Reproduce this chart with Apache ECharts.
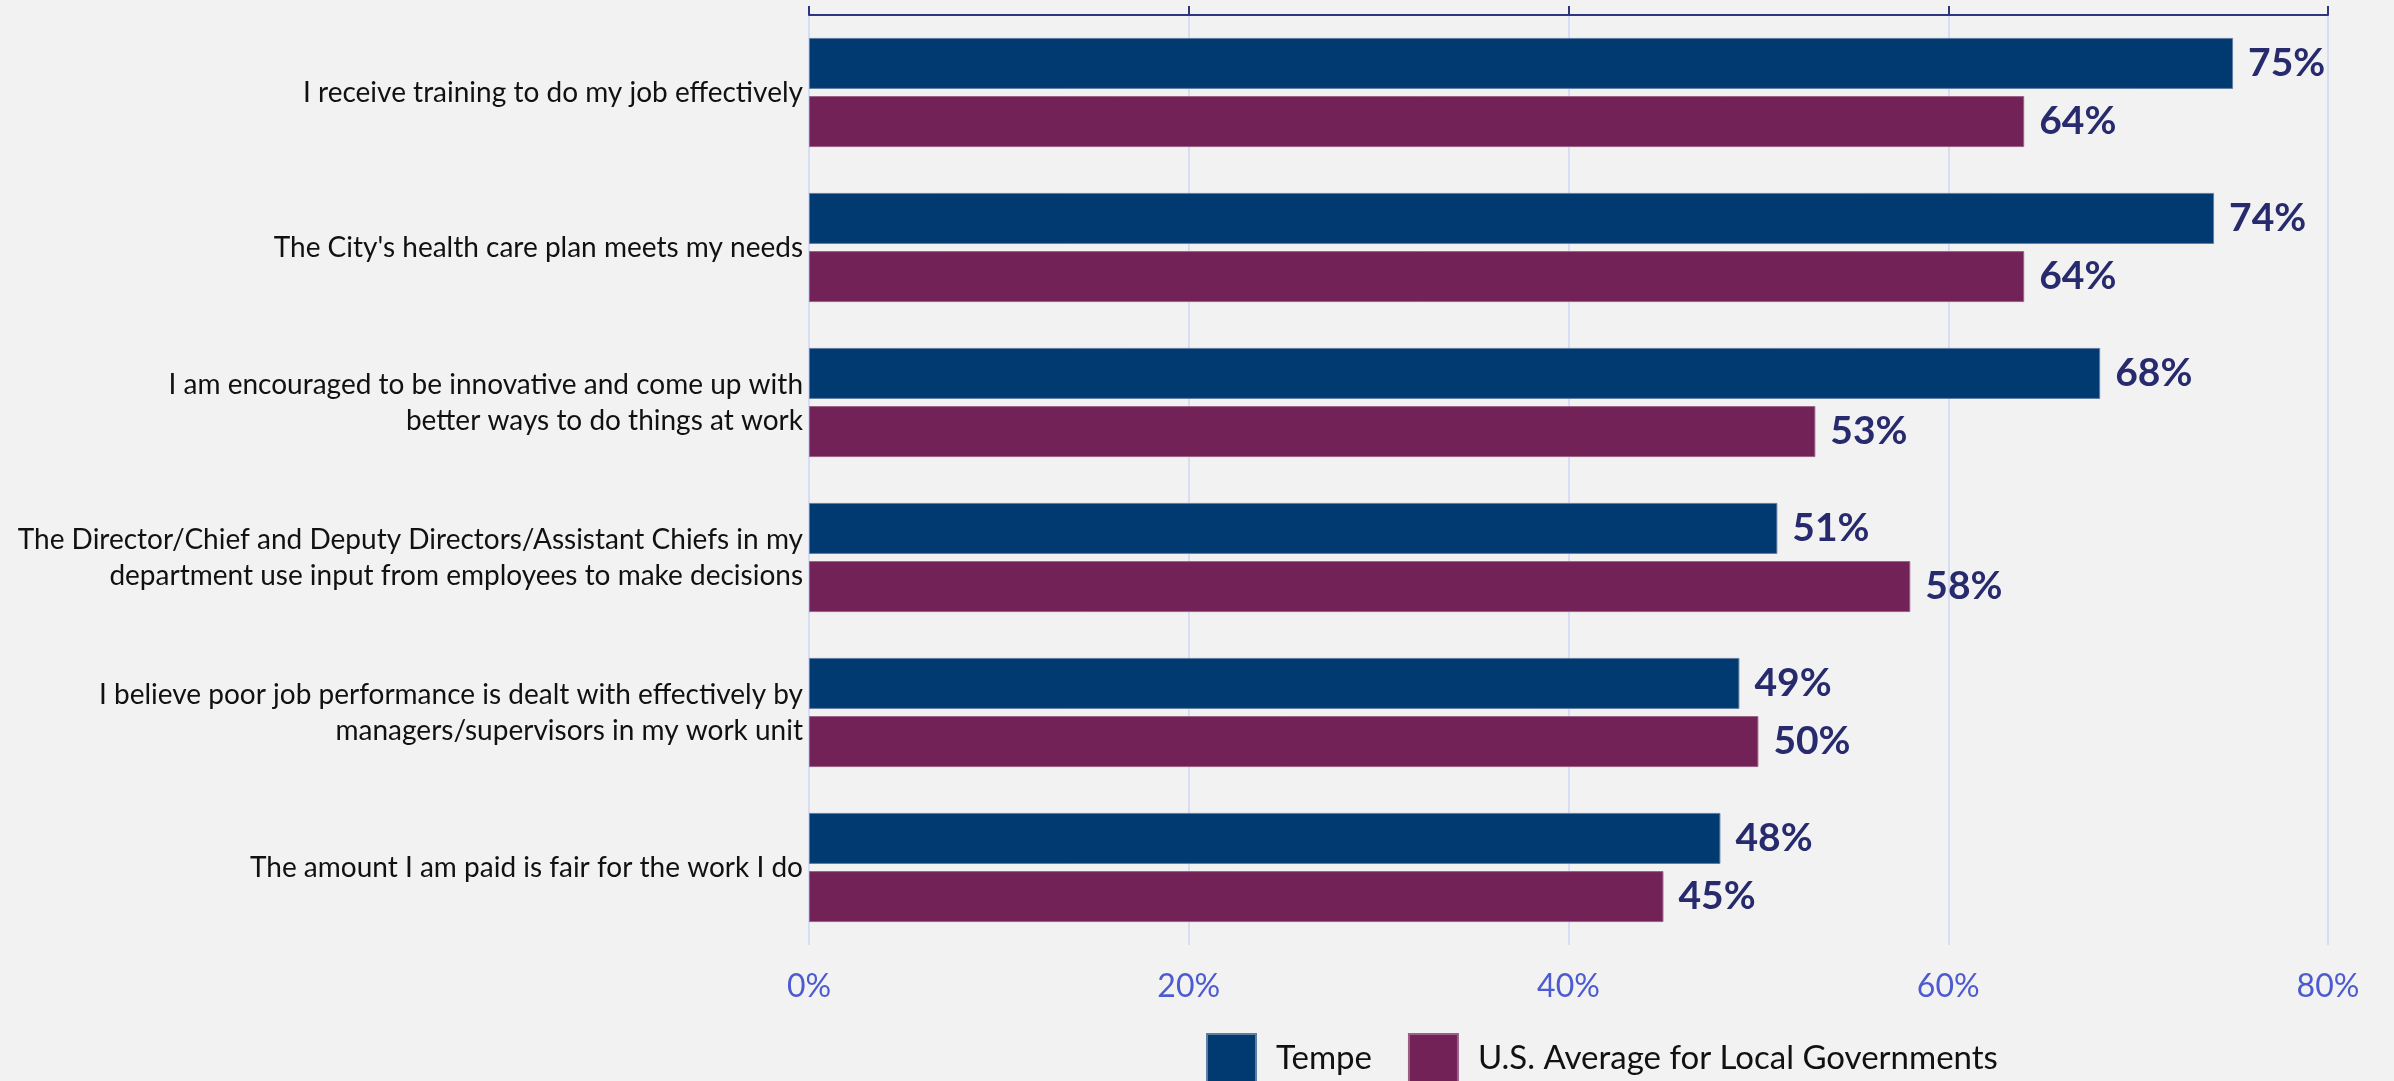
<!DOCTYPE html>
<html>
<head>
<meta charset="utf-8">
<script src="https://cdn.jsdelivr.net/npm/echarts@6/dist/echarts.min.js"></script>
<style>
  html, body { margin: 0; padding: 0; background: #f2f2f2; }
  #chart { width: 2394px; height: 1081px; }
</style>
</head>
<body>
<div id="chart"></div>
<script>
// Survey statements, top to bottom
const categories = [
  "I receive training to do my job effectively",
  "The City's health care plan meets my needs",
  "I am encouraged to be innovative and come up with\nbetter ways to do things at work",
  "The Director/Chief and Deputy Directors/Assistant Chiefs in my\ndepartment use input from employees to make decisions",
  "I believe poor job performance is dealt with effectively by\nmanagers/supervisors in my work unit",
  "The amount I am paid is fair for the work I do"
];
// Percent agreeing
const tempeValues = [75, 74, 68, 51, 49, 48];
const usAverageValues = [64, 64, 53, 58, 50, 45];
const seriesNames = ["Tempe", "U.S. Average for Local Governments"];

const chart = echarts.init(document.getElementById('chart'));

const valueLabel = {
  show: true,
  position: 'right',
  distance: 15,
  formatter: '{c}%',
  fontFamily: 'Lato',
  fontWeight: 'bold',
  fontSize: 39,
  color: '#272b6d'
};

chart.setOption({
  backgroundColor: '#f2f2f2',
  animation: false,
  grid: { left: 809, right: 66, top: 15, bottom: 136 },
  legend: {
    left: 1206,
    top: 1033,
    padding: 0,
    itemWidth: 49,
    itemHeight: 48,
    itemGap: 36,
    icon: 'rect',
    textStyle: {
      fontFamily: 'Lato',
      fontSize: 33,
      color: '#111',
      padding: [0, 0, 0, 15]
    },
    data: seriesNames
  },
  xAxis: [
    {
      type: 'value',
      position: 'bottom',
      min: 0, max: 80, interval: 20,
      axisLine: { show: false },
      axisTick: { show: false },
      splitLine: { show: true, lineStyle: { color: '#d9ddf4', width: 2 } },
      axisLabel: {
        formatter: '{value}%',
        fontFamily: 'Lato',
        fontSize: 32,
        color: '#4d5bd0',
        margin: 26
      }
    },
    {
      type: 'value',
      position: 'top',
      min: 0, max: 80, interval: 20,
      axisLine: { show: true, lineStyle: { color: '#2f3580', width: 2 } },
      axisTick: { show: true, length: 9, lineStyle: { color: '#2f3580', width: 2 } },
      splitLine: { show: false },
      axisLabel: { show: false }
    }
  ],
  yAxis: {
    type: 'category',
    inverse: true,
    data: categories,
    axisLine: { show: false },
    axisTick: { show: false },
    axisLabel: {
      fontFamily: 'Lato',
      fontSize: 28,
      lineHeight: 36,
      color: '#111',
      margin: 6,
      align: 'right'
    }
  },
  series: [
    {
      name: seriesNames[0],
      type: 'bar',
      data: tempeValues,
      barWidth: 51,
      barGap: '14%',
      itemStyle: { color: '#003a70', borderColor: '#5f7ea3', borderWidth: 1 },
      label: valueLabel
    },
    {
      name: seriesNames[1],
      type: 'bar',
      data: usAverageValues,
      barWidth: 51,
      barGap: '14%',
      itemStyle: { color: '#722257', borderColor: '#9a6086', borderWidth: 1 },
      label: valueLabel
    }
  ]
});
</script>
</body>
</html>
